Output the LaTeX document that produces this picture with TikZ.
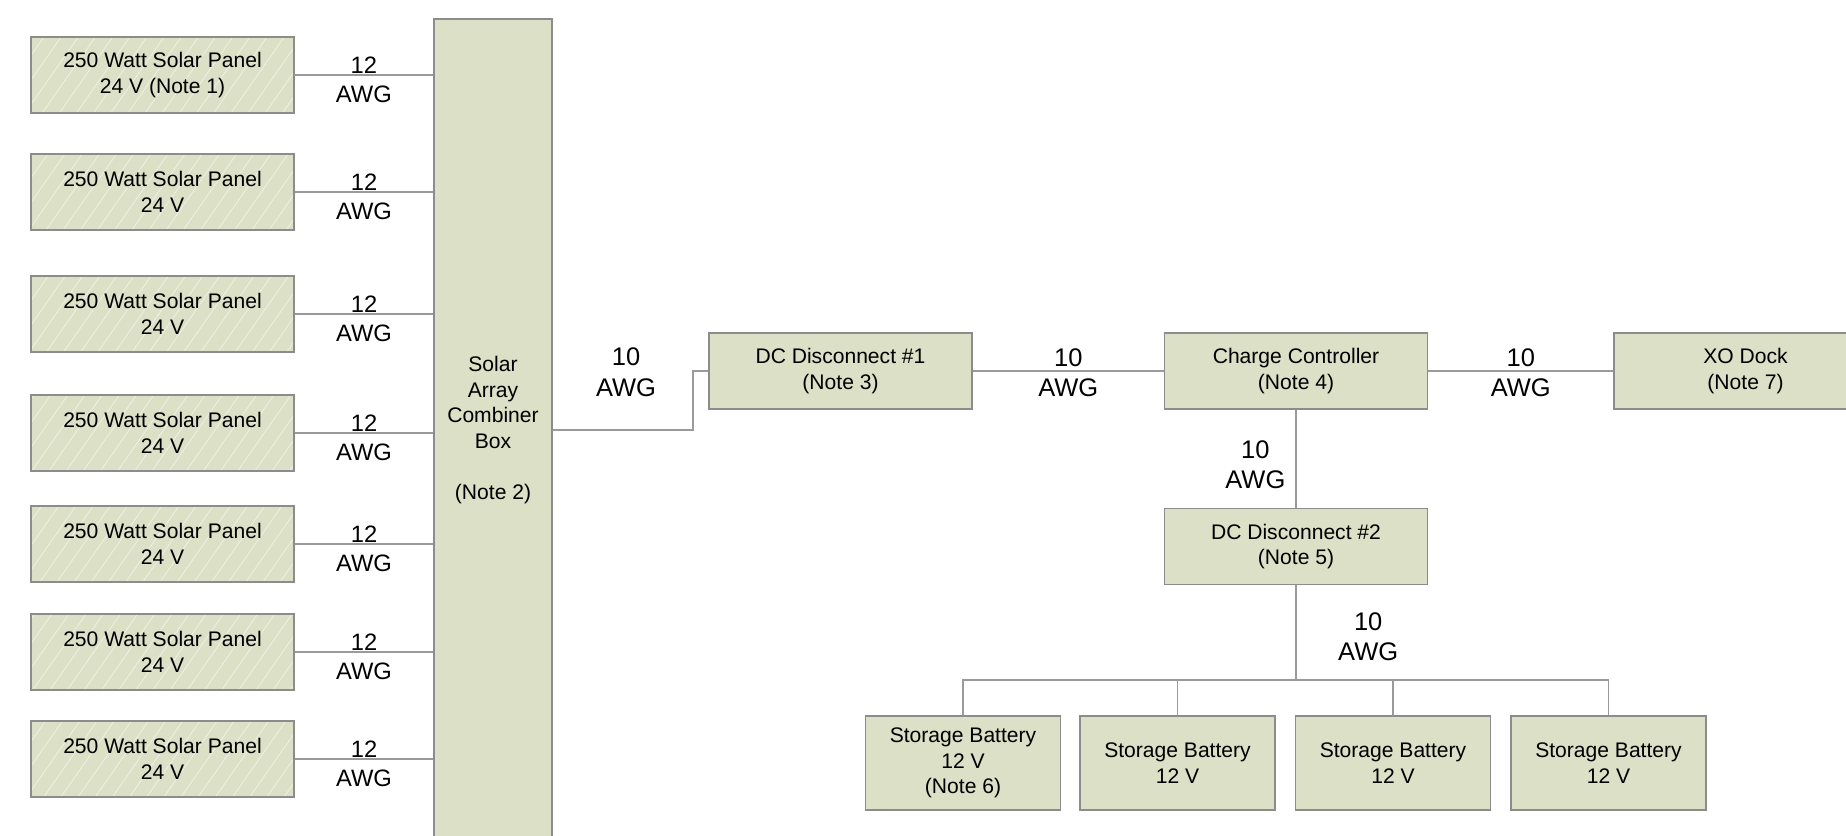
\documentclass[tikz,border=0pt]{standalone}
\usepackage{fontspec}
\setmainfont{Liberation Sans}
\usetikzlibrary{calc,patterns.meta}

\definecolor{boxfill}{HTML}{DCE0C6}
\definecolor{boxline}{HTML}{8C8C8C}
\definecolor{wirecol}{HTML}{9A9A9A}
\definecolor{hatch}{HTML}{EEF0E2}

\begin{document}
\begin{tikzpicture}[
    box/.style={draw=boxline, line width=0.9pt, fill=boxfill, align=center,
        inner sep=2pt, font=\fontsize{12}{14.5}\selectfont},
    panel/.style={draw=boxline, line width=0.9pt, preaction={fill=boxfill},
        pattern={Lines[angle=55,distance=8pt,line width=0.5pt]}, pattern color=hatch,
        align=center, font=\fontsize{12}{14.5}\selectfont,
        minimum width=5.26cm, minimum height=1.52cm},
    unit/.style={box, minimum width=5.26cm, minimum height=1.52cm},
    battery/.style={box, minimum width=3.9cm, minimum height=1.88cm},
    wire/.style={draw=wirecol, line width=0.8pt},
    gauge/.style={align=center, font=\fontsize{13.5}{16.5}\selectfont, inner sep=0pt},
    gaugebig/.style={align=center, font=\fontsize{14.5}{17.5}\selectfont, inner sep=0pt}
]
    \useasboundingbox (0,0) rectangle (36.92,-16.7);

    % solar array
    \node[box, minimum width=2.36cm, minimum height=16.44cm] (combiner) at (9.86,-8.6)
        {Solar\\Array\\Combiner\\Box\\[14.5pt](Note 2)};
    \foreach \i/\y/\volt in {1/1.50/{24 V (Note 1)},2/3.84/24 V,3/6.28/24 V,
            4/8.66/24 V,5/10.88/24 V,6/13.04/24 V,7/15.18/24 V} {
        \node[panel] (p\i) at (3.25,-\y) {250 Watt Solar Panel\\\volt};
        \draw[wire] (p\i.east) -- (p\i.east -| combiner.west)
            node[midway, gauge, yshift=-2.5pt] {12\\AWG};
    }

    % main line
    \node[unit] (dc1) at (16.81,-7.42) {DC Disconnect \#1\\(Note 3)};
    \node[unit] (cc) at (25.92,-7.42) {Charge Controller\\(Note 4)};
    \node[unit] (xo) at (34.91,-7.42) {XO Dock\\(Note 7)};
    \node[unit] (dc2) at (25.92,-10.93) {DC Disconnect \#2\\(Note 5)};

    \coordinate (bend) at (13.86,-8.6);
    \draw[wire] (combiner.east) -- (bend) |- (dc1.west);
    \node[gaugebig] (g1) at (12.52,-7.45) {10\\AWG};
    \draw[wire] (dc1.east) -- (cc.west) node[midway, gaugebig, yshift=-1pt] {10\\AWG};
    \draw[wire] (cc.east) -- (xo.west) node[midway, gaugebig, yshift=-1pt] {10\\AWG};
    \draw[wire] (cc.south) -- (dc2.north)
        node[midway, gaugebig, left, xshift=-0.2cm, yshift=-0.12cm] {10\\AWG};

    % batteries
    \coordinate (bus) at (25.92,-13.6);
    \draw[wire] (dc2.south) -- (bus)
        node[midway, gaugebig, right, xshift=0.83cm, yshift=-0.08cm] {10\\AWG};
    \node[battery] (b1) at (19.26,-15.26) {Storage Battery\\12 V\\(Note 6)};
    \foreach \i/\x in {2/23.55,3/27.86,4/32.17}
        \node[battery] (b\i) at (\x,-15.26) {Storage Battery\\12 V};
    \foreach \i in {1,...,4}
        \draw[wire] (b\i.north) |- (bus);
\end{tikzpicture}
\end{document}
